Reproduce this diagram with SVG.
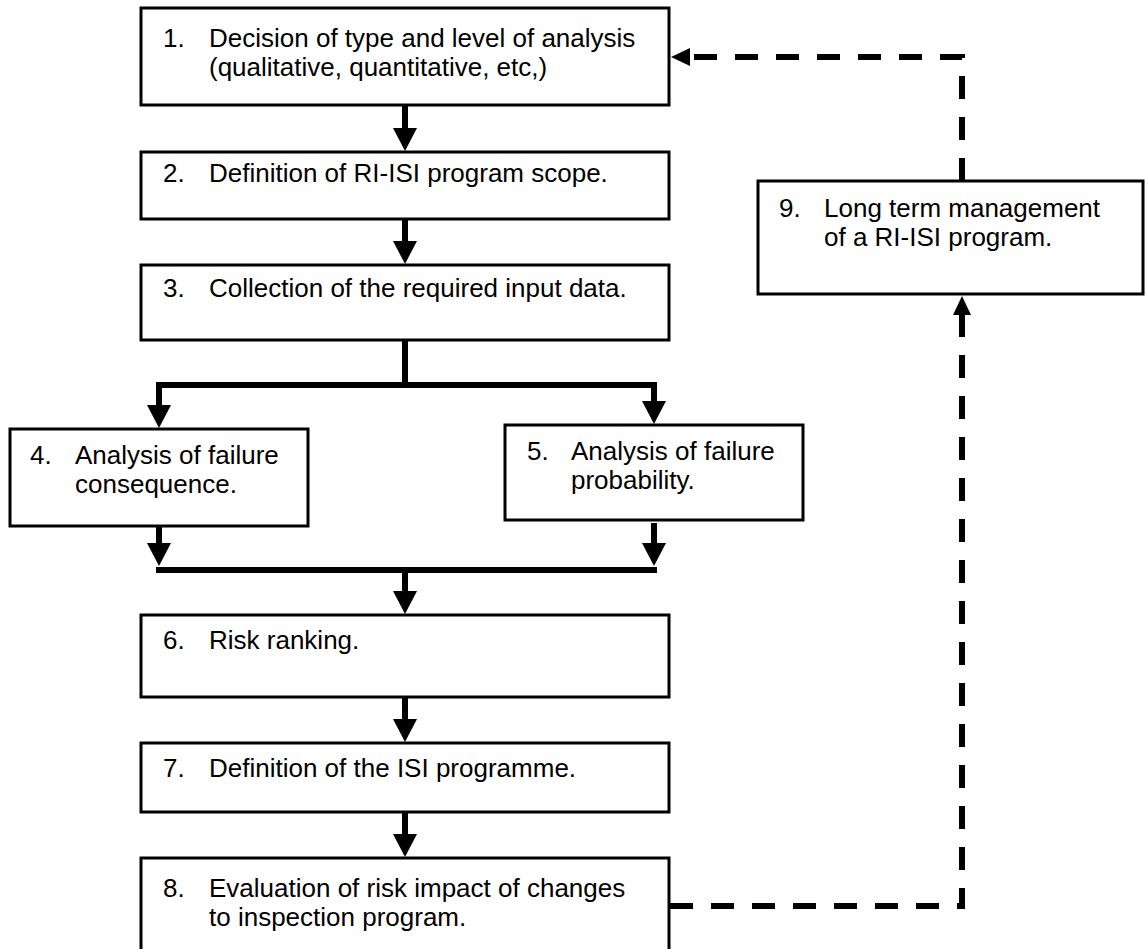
<svg xmlns="http://www.w3.org/2000/svg" width="1147" height="949" viewBox="0 0 1147 949">
<style>
.box{fill:#fff;stroke:#000;stroke-width:3}
.t{font-family:"Liberation Sans",Arial,sans-serif;font-size:26px;fill:#000}
.solid{fill:none;stroke:#000;stroke-width:6}
.dash{fill:none;stroke:#000;stroke-width:6;stroke-dasharray:23 18}
</style>
<defs>
<marker id="ah" markerUnits="userSpaceOnUse" markerWidth="24" markerHeight="24" refX="1" refY="12" orient="auto" viewBox="0 0 24 24">
<path d="M0,0 L23,12 L0,24 Z" fill="#000"/>
</marker>
<marker id="dh" markerUnits="userSpaceOnUse" markerWidth="20" markerHeight="18" refX="1" refY="9" orient="auto" viewBox="0 0 20 18">
<path d="M0,0 L19,9 L0,18 Z" fill="#000"/>
</marker>
</defs>
<rect width="1147" height="949" fill="#fff"/>
<g id="connectors">
<path class="solid" d="M405,105 V129" marker-end="url(#ah)"/>
<path class="solid" d="M405,219 V242" marker-end="url(#ah)"/>
<path class="solid" d="M405,340 V385"/>
<path class="solid" d="M156,385 H657"/>
<path class="solid" d="M159,385 V406" marker-end="url(#ah)"/>
<path class="solid" d="M654,385 V402" marker-end="url(#ah)"/>
<path class="solid" d="M159,526 V544" marker-end="url(#ah)"/>
<path class="solid" d="M654,523 V544" marker-end="url(#ah)"/>
<path class="solid" d="M156,570 H657"/>
<path class="solid" d="M405,570 V592" marker-end="url(#ah)"/>
<path class="solid" d="M405,697 V720" marker-end="url(#ah)"/>
<path class="solid" d="M405,812 V835" marker-end="url(#ah)"/>
<path class="dash" d="M670,906 H962 V314" marker-end="url(#dh)"/>
<path class="dash" d="M962,181 V57 H689" marker-end="url(#dh)"/>
</g>
<g id="n1">
<rect class="box" x="141" y="8" width="528" height="97"/>
<text class="t" x="163" y="47">1.</text>
<text class="t" x="209" y="47">Decision of type and level of analysis</text>
<text class="t" x="209" y="76">(qualitative, quantitative, etc,)</text>
</g>
<g id="n2">
<rect class="box" x="141" y="152" width="528" height="67"/>
<text class="t" x="163" y="182">2.</text>
<text class="t" x="209" y="182">Definition of RI-ISI program scope.</text>
</g>
<g id="n3">
<rect class="box" x="141" y="265" width="528" height="75"/>
<text class="t" x="163" y="297">3.</text>
<text class="t" x="209" y="297">Collection of the required input data.</text>
</g>
<g id="n4">
<rect class="box" x="10" y="429" width="298" height="97"/>
<text class="t" x="30" y="464">4.</text>
<text class="t" x="75" y="464">Analysis of failure</text>
<text class="t" x="75" y="493">consequence.</text>
</g>
<g id="n5">
<rect class="box" x="505" y="425" width="298" height="95"/>
<text class="t" x="527" y="460">5.</text>
<text class="t" x="571" y="460">Analysis of failure</text>
<text class="t" x="571" y="489">probability.</text>
</g>
<g id="n6">
<rect class="box" x="141" y="615" width="528" height="82"/>
<text class="t" x="163" y="649">6.</text>
<text class="t" x="209" y="649">Risk ranking.</text>
</g>
<g id="n7">
<rect class="box" x="141" y="743" width="528" height="69"/>
<text class="t" x="163" y="777">7.</text>
<text class="t" x="209" y="777">Definition of the ISI programme.</text>
</g>
<g id="n8">
<rect class="box" x="141" y="858" width="528" height="100"/>
<text class="t" x="163" y="897">8.</text>
<text class="t" x="209" y="897">Evaluation of risk impact of changes</text>
<text class="t" x="209" y="926">to inspection program.</text>
</g>
<g id="n9">
<rect class="box" x="758" y="181" width="385" height="113"/>
<text class="t" x="779" y="217">9.</text>
<text class="t" x="824" y="217">Long term management</text>
<text class="t" x="824" y="246">of a RI-ISI program.</text>
</g>
</svg>
